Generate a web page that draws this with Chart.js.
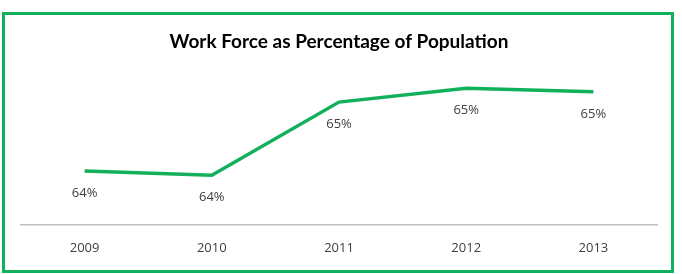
<!DOCTYPE html>
<html>
<head>
<meta charset="utf-8">
<script src="https://cdn.jsdelivr.net/npm/chart.js@4"></script>
<style>
  html, body { margin: 0; padding: 0; background: #fff; }
  #box { position: absolute; left: 2px; top: 12px; width: 672px; height: 261px; box-sizing: border-box; border: 3px solid #12b05a; }
  #wrap { position: absolute; left: 0; top: 0; width: 666px; height: 255px; }
</style>
</head>
<body>
<div id="box"><div id="wrap"><canvas id="c"></canvas></div></div>
<script>
const years = ["2009", "2010", "2011", "2012", "2013"];
const workForcePct = [64.23, 64.17, 65.17, 65.36, 65.31];
const chartTitle = "Work Force as Percentage of Population";

const labelBelow = {
  id: 'labelBelow',
  afterDatasetsDraw(chart) {
    const ctx = chart.ctx;
    const meta = chart.getDatasetMeta(0);
    ctx.save();
    ctx.font = '13px "Open Sans", Lato, sans-serif';
    ctx.fillStyle = '#404040';
    ctx.textAlign = 'center';
    ctx.textBaseline = 'middle';
    meta.data.forEach((pt, i) => {
      ctx.fillText(Math.round(workForcePct[i]) + '%', pt.x, pt.y + 22);
    });
    ctx.restore();
  }
};

new Chart(document.getElementById('c'), {
  type: 'line',
  data: {
    labels: years,
    datasets: [{
      data: workForcePct,
      borderColor: '#12b05a',
      borderWidth: 3.5,
      pointRadius: 0,
      tension: 0,
      fill: false
    }]
  },
  options: {
    responsive: true,
    maintainAspectRatio: false,
    animation: false,
    layout: { padding: { left: 16, right: 14, top: 0, bottom: -2 } },
    plugins: {
      legend: { display: false },
      tooltip: { enabled: false },
      title: {
        display: true,
        text: chartTitle,
        color: '#000',
        font: { family: 'Lato, "Open Sans", sans-serif', size: 19, weight: 'bold' },
        padding: { top: 15, bottom: 9 }
      }
    },
    scales: {
      x: {
        offset: true,
        grid: { display: false, drawTicks: false },
        border: { display: true, color: '#bfbfbf', width: 1.5 },
        ticks: { color: '#404040', padding: 16, font: { family: '"Open Sans", Lato, sans-serif', size: 13 } }
      },
      y: {
        display: false,
        min: 63.5,
        max: 65.72
      }
    }
  },
  plugins: [labelBelow]
});
</script>
</body>
</html>
